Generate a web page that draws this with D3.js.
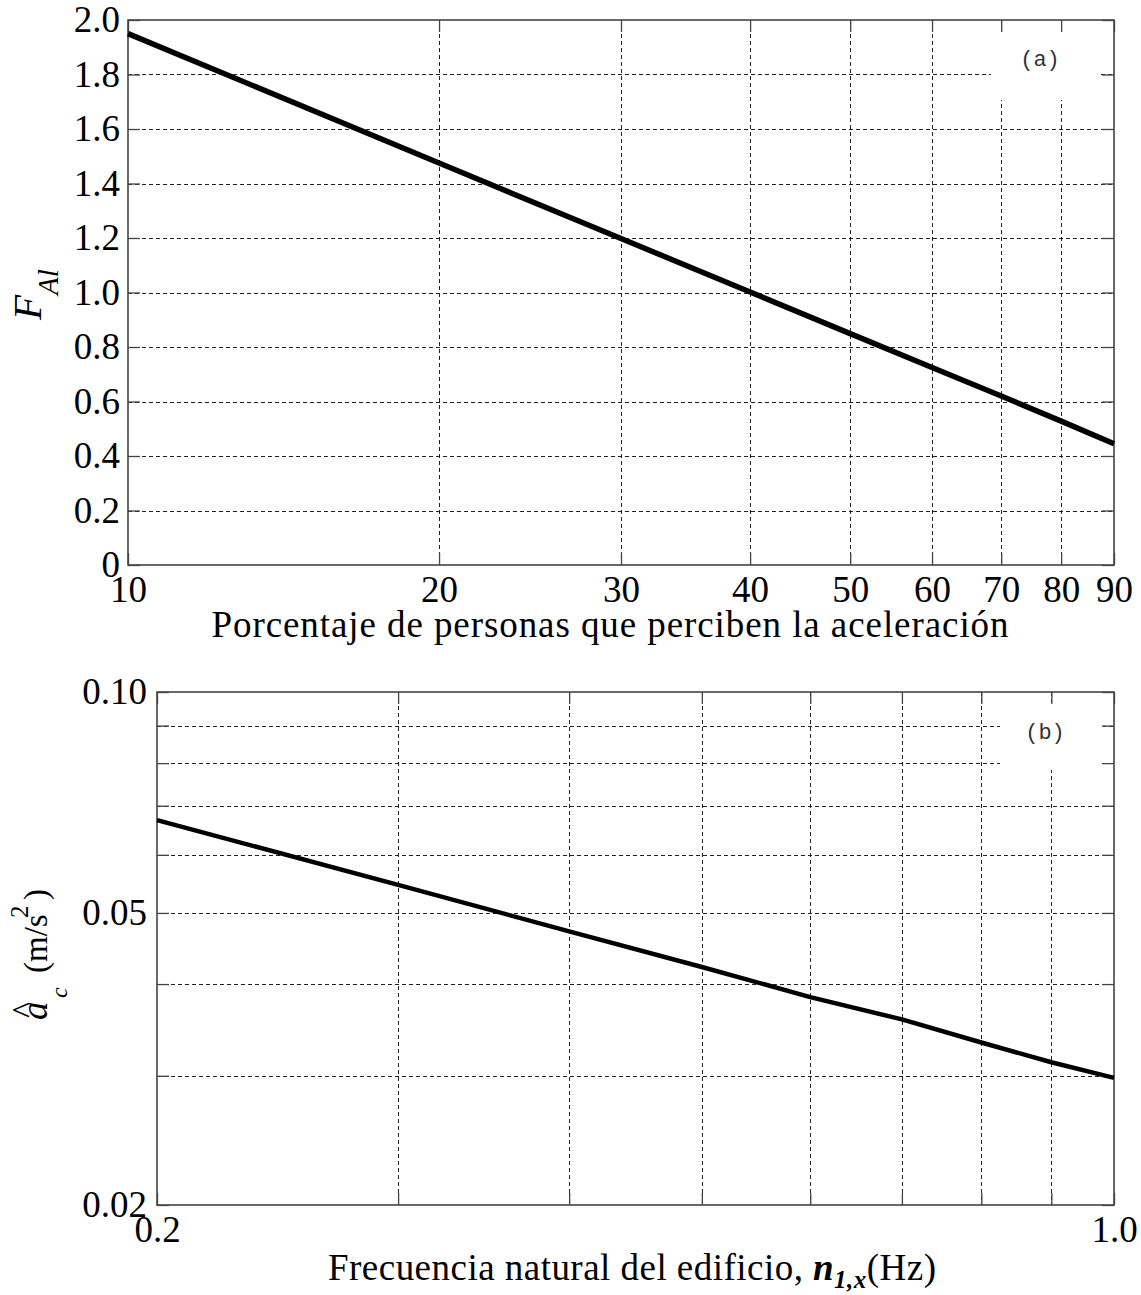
<!DOCTYPE html>
<html>
<head>
<meta charset="utf-8">
<script src="https://cdn.jsdelivr.net/npm/d3@7"></script>
<style>
  body { margin: 0; background: #fff; }
  svg { display: block; }
</style>
</head>
<body>
<div id="chart"></div>
<script>
// Panel (a) data: percentage of people perceiving the acceleration vs F_Al
const pctValues = [10, 20, 30, 40, 50, 60, 70, 80, 90];
const faValues = [1.95, 1.475, 1.198, 1.002, 0.849, 0.725, 0.62, 0.528, 0.445];
const pctTicks = [10, 20, 30, 40, 50, 60, 70, 80, 90];
const pctTickLabels = ["10", "20", "30", "40", "50", "60", "70", "80", "90"];
const faTicks = [0, 0.2, 0.4, 0.6, 0.8, 1.0, 1.2, 1.4, 1.6, 1.8, 2.0];
const faTickLabels = ["0", "0.2", "0.4", "0.6", "0.8", "1.0", "1.2", "1.4", "1.6", "1.8", "2.0"];

// Panel (b) data: natural frequency vs critical acceleration
const freqValues = [0.2, 0.3, 0.4, 0.5, 0.6, 0.7, 0.8, 0.9, 1.0];
const accelValues = [0.0669, 0.0546, 0.0472, 0.0422, 0.0384, 0.0358, 0.0333, 0.0313, 0.0298];
const freqTicks = [0.2, 0.3, 0.4, 0.5, 0.6, 0.7, 0.8, 0.9, 1.0];
const freqTickLabels = ["0.2", "", "", "", "", "", "", "", "1.0"];
const accelTicks = [0.02, 0.03, 0.04, 0.05, 0.06, 0.07, 0.08, 0.09, 0.10];
const accelTickLabels = ["0.02", "", "", "0.05", "", "", "", "", "0.10"];

const W = 1141, H = 1295;
const serif = "'Liberation Serif', 'Times New Roman', serif";
const mono = "'Liberation Mono', 'Courier New', monospace";
const gridColor = "#222";
const frameColor = "#444";

const svg = d3.select("#chart").append("svg")
    .attr("width", W)
    .attr("height", H)
    .style("background", "#fff");

// Draws one MATLAB-like panel with inward ticks and dashed grid
function drawPanel(cfg) {
    const { left, top, right, bottom } = cfg.box;
    const x = cfg.x.range([left, right]);
    const y = cfg.y.range([bottom, top]);
    const g = svg.append("g");

    const xGrid = cfg.xTicks.filter(d => x(d) > left + 1 && x(d) < right - 1);
    const yGrid = cfg.yTicks.filter(d => y(d) > top + 1 && y(d) < bottom - 1);

    // dashed grid
    g.selectAll(".vgrid").data(xGrid).join("line")
        .attr("x1", d => Math.round(x(d)) + 0.5).attr("x2", d => Math.round(x(d)) + 0.5)
        .attr("y1", top).attr("y2", bottom)
        .attr("stroke", gridColor).attr("stroke-width", 1)
        .attr("stroke-dasharray", "4,3");
    g.selectAll(".hgrid").data(yGrid).join("line")
        .attr("x1", left).attr("x2", right)
        .attr("y1", d => Math.round(y(d)) + 0.5).attr("y2", d => Math.round(y(d)) + 0.5)
        .attr("stroke", gridColor).attr("stroke-width", 1)
        .attr("stroke-dasharray", "4,3");

    // white box behind the panel tag
    g.append("rect")
        .attr("x", cfg.tagBox[0]).attr("y", cfg.tagBox[1])
        .attr("width", cfg.tagBox[2]).attr("height", cfg.tagBox[3])
        .attr("fill", "#fff");
    g.append("text")
        .attr("x", cfg.tagPos[0]).attr("y", cfg.tagPos[1])
        .attr("text-anchor", "middle")
        .style("font-family", mono).style("font-size", "22px")
        .attr("fill", "#333")
        .text(cfg.tag);

    // axes with inward ticks
    const fmtX = d => cfg.xLabels[cfg.xTicks.indexOf(d)];
    const fmtY = d => cfg.yLabels[cfg.yTicks.indexOf(d)];

    const axB = g.append("g").attr("transform", `translate(0,${bottom})`)
        .call(d3.axisBottom(x).tickValues(cfg.xTicks).tickFormat(fmtX)
            .tickSizeInner(-12).tickSizeOuter(0).tickPadding(11));
    const axT = g.append("g").attr("transform", `translate(0,${top})`)
        .call(d3.axisTop(x).tickValues(cfg.xTicks).tickFormat("")
            .tickSizeInner(-12).tickSizeOuter(0));
    const axL = g.append("g").attr("transform", `translate(${left},0)`)
        .call(d3.axisLeft(y).tickValues(cfg.yTicks).tickFormat(fmtY)
            .tickSizeInner(-12).tickSizeOuter(0).tickPadding(cfg.yPad));
    const axR = g.append("g").attr("transform", `translate(${right},0)`)
        .call(d3.axisRight(y).tickValues(cfg.yTicks).tickFormat("")
            .tickSizeInner(-12).tickSizeOuter(0));

    [axB, axT, axL, axR].forEach(a => {
        a.select(".domain").remove();
        a.selectAll(".tick line").attr("stroke", frameColor).attr("stroke-width", 1.3);
        a.selectAll(".tick text")
            .attr("fill", "#000")
            .style("font-family", serif)
            .style("font-size", "37px");
    });

    // frame
    g.append("rect")
        .attr("x", left).attr("y", top)
        .attr("width", right - left).attr("height", bottom - top)
        .attr("fill", "none").attr("stroke", frameColor).attr("stroke-width", 1.6);

    // data line
    const line = d3.line()
        .x(d => x(d[0]))
        .y(d => y(d[1]));
    g.append("path")
        .datum(d3.zip(cfg.xs, cfg.ys))
        .attr("d", line)
        .attr("fill", "none")
        .attr("stroke", "#000")
        .attr("stroke-width", cfg.lineWidth)
        .attr("stroke-linejoin", "round");

    return g;
}

// Panel (a)
drawPanel({
    box: { left: 128, top: 20, right: 1114, bottom: 565 },
    x: d3.scaleLog().domain([10, 90]),
    y: d3.scaleLinear().domain([0, 2]),
    xTicks: pctTicks, xLabels: pctTickLabels,
    yTicks: faTicks, yLabels: faTickLabels,
    yPad: 8,
    xs: pctValues, ys: faValues,
    lineWidth: 5.5,
    tag: "(a)", tagBox: [991, 32, 107, 68], tagPos: [1040, 66]
});

// Panel (b)
drawPanel({
    box: { left: 157, top: 692, right: 1114, bottom: 1205 },
    x: d3.scaleLog().domain([0.2, 1.0]),
    y: d3.scaleLog().domain([0.02, 0.10]),
    xTicks: freqTicks, xLabels: freqTickLabels,
    yTicks: accelTicks, yLabels: accelTickLabels,
    yPad: 10,
    xs: freqValues, ys: accelValues,
    lineWidth: 4.5,
    tag: "(b)", tagBox: [1000, 704, 103, 66], tagPos: [1045, 739]
});

// Axis titles, panel (a)
svg.append("text")
    .attr("x", 610).attr("y", 637)
    .attr("text-anchor", "middle")
    .attr("textLength", 797).attr("lengthAdjust", "spacing")
    .style("font-family", serif).style("font-size", "37px")
    .text("Porcentaje de personas que perciben la aceleración");

const yTitleA = svg.append("text")
    .attr("transform", "translate(41,320) rotate(-90)")
    .style("font-family", serif).style("font-style", "italic");
yTitleA.append("tspan").style("font-size", "41px").text("F");
yTitleA.append("tspan").style("font-size", "29px").attr("dy", 17).text("Al");

// Axis titles, panel (b)
const xTitleB = svg.append("text")
    .attr("x", 632).attr("y", 1280)
    .attr("text-anchor", "middle")
    .attr("textLength", 608).attr("lengthAdjust", "spacing")
    .style("font-family", serif).style("font-size", "37px");
xTitleB.append("tspan").text("Frecuencia natural del edificio, ");
xTitleB.append("tspan").style("font-weight", "bold").style("font-style", "italic").text("n");
xTitleB.append("tspan").style("font-weight", "bold").style("font-style", "italic")
    .style("font-size", "25px").attr("dy", 8).text("1,x");
xTitleB.append("tspan").attr("dy", -8).text("(Hz)");

const yTitleB = svg.append("g").attr("transform", "translate(47,1020) rotate(-90)");
const yt = yTitleB.append("text").style("font-family", serif);
yt.append("tspan").style("font-style", "italic").style("font-size", "37px").text("a");
yt.append("tspan").attr("x", 22).style("font-style", "italic").style("font-size", "24px").attr("dy", 20).text("c");
yt.append("tspan").attr("x", 47).style("font-size", "33px").attr("dy", -20).text("(m/s");
yt.append("tspan").attr("x", 102).style("font-size", "25px").attr("dy", -19).text("2");
yt.append("tspan").attr("x", 120).style("font-size", "33px").attr("dy", 19).text(")");
yTitleB.append("text")
    .attr("x", 10).attr("y", -12)
    .attr("text-anchor", "middle")
    .style("font-family", serif).style("font-size", "34px")
    .text("^");
</script>
</body>
</html>
